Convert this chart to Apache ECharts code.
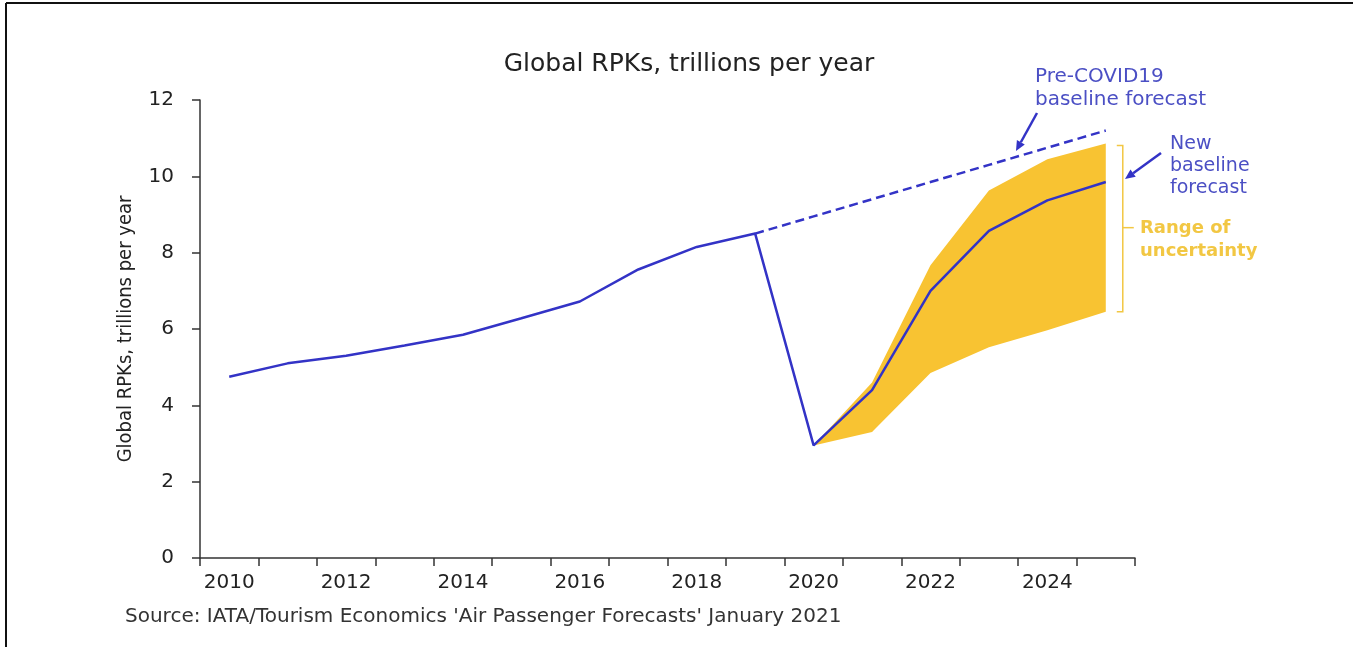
<!DOCTYPE html>
<html>
<head>
<meta charset="utf-8">
<script src="https://cdn.jsdelivr.net/npm/echarts@6/dist/echarts.min.js"></script>
<style>
  html, body { margin: 0; padding: 0; background: #fff; }
  #chart { width: 1356px; height: 647px; }
</style>
</head>
<body>
<div id="chart"></div>
<script>
// years on the category axis
const years = ["2010", "2011", "2012", "2013", "2014", "2015", "2016", "2017",
  "2018", "2019", "2020", "2021", "2022", "2023", "2024", "2025"];

// actual + new baseline forecast (trillions RPK)
const baseline = [4.75, 5.1, 5.3, 5.57, 5.85, 6.28, 6.72, 7.56, 8.15, 8.5,
  2.95, 4.4, 7.0, 8.57, 9.37, 9.85];

// pre-COVID19 baseline forecast (dashed)
const preCovid = [null, null, null, null, null, null, null, null, null, 8.5,
  8.95, 9.4, 9.85, 10.3, 10.75, 11.2];

// range of uncertainty
const bandLow = [null, null, null, null, null, null, null, null, null, null,
  2.95, 3.3, 4.85, 5.52, 5.97, 6.45];
const bandHigh = [null, null, null, null, null, null, null, null, null, null,
  2.95, 4.6, 7.67, 9.63, 10.45, 10.86];

const yTicks = [0, 2, 4, 6, 8, 10, 12];

const BLUE = "#3333c6";
const YELLOW = "#f8c332";
const YELLOW_TXT = "#f2c743";
const LABEL_BLUE = "#4b4fc4";
const FONT = "'DejaVu Sans', Inter, sans-serif";

const bandDiff = bandHigh.map((v, i) => (v == null ? null : +(v - bandLow[i]).toFixed(2)));

const chart = echarts.init(document.getElementById("chart"), null, { renderer: "canvas" });

const option = {
  animation: false,
  backgroundColor: "#fff",
  grid: { left: 200, right: 221, top: 100, bottom: 89, containLabel: false },
  xAxis: {
    type: "category",
    data: years,
    boundaryGap: true,
    axisLine: { lineStyle: { color: "#333", width: 1.5 } },
    axisTick: { show: true, interval: 0, length: 8, lineStyle: { color: "#333", width: 1.5 } },
    axisLabel: {
      interval: 1,
      color: "#222",
      fontFamily: FONT,
      fontSize: 20,
      margin: 15
    },
    splitLine: { show: false }
  },
  yAxis: {
    type: "value",
    min: 0,
    max: 12,
    interval: 2,
    name: "Global RPKs, trillions per year",
    nameLocation: "middle",
    nameGap: 64,
    nameTextStyle: {
      color: "#222",
      fontFamily: "'Liberation Sans Narrow', 'DejaVu Sans Condensed', sans-serif",
      fontSize: 20
    },
    axisLine: { show: true, lineStyle: { color: "#333", width: 1.5 } },
    axisTick: { show: true, length: 8, lineStyle: { color: "#333", width: 1.5 } },
    axisLabel: {
      color: "#222",
      fontFamily: FONT,
      fontSize: 20,
      margin: 26,
      formatter: (v) => (yTicks.includes(v) ? String(v) : "")
    },
    splitLine: { show: false }
  },
  series: [
    {
      name: "bandLow",
      type: "line",
      stack: "band",
      data: bandLow,
      symbol: "none",
      lineStyle: { width: 0, opacity: 0 },
      areaStyle: { opacity: 0 },
      z: 1
    },
    {
      name: "Range of uncertainty",
      type: "line",
      stack: "band",
      data: bandDiff,
      symbol: "none",
      lineStyle: { width: 0, opacity: 0 },
      areaStyle: { color: YELLOW, opacity: 1 },
      z: 1
    },
    {
      name: "Pre-COVID19 baseline forecast",
      type: "line",
      data: preCovid,
      symbol: "none",
      lineStyle: { color: BLUE, width: 2.5, type: [9, 5] },
      z: 3
    },
    {
      name: "New baseline forecast",
      type: "line",
      data: baseline,
      symbol: "none",
      lineStyle: { color: BLUE, width: 2.5 },
      z: 4
    }
  ]
};

chart.setOption(option);

// annotation helpers
function arrow(x1, y1, x2, y2, color) {
  const ang = Math.atan2(y2 - y1, x2 - x1);
  const L = 10, W = 4.5;
  const bx = x2 - L * Math.cos(ang), by = y2 - L * Math.sin(ang);
  const px = -Math.sin(ang) * W, py = Math.cos(ang) * W;
  return [
    { type: "line", shape: { x1, y1, x2: bx, y2: by }, style: { stroke: color, lineWidth: 2.5 }, z: 10 },
    { type: "polygon", shape: { points: [[x2, y2], [bx + px, by + py], [bx - px, by - py]] }, style: { fill: color }, z: 10 }
  ];
}

const last = years.length - 1;
const topPx = chart.convertToPixel({ gridIndex: 0 }, [last, bandHigh[last]]);
const botPx = chart.convertToPixel({ gridIndex: 0 }, [last, bandLow[last]]);
const bx = topPx[0] + 17;
const midY = (topPx[1] + botPx[1]) / 2;

const graphics = [
  // frame
  { type: "line", shape: { x1: 6, y1: 3, x2: 1353, y2: 3 }, style: { stroke: "#111", lineWidth: 2 } },
  { type: "line", shape: { x1: 6, y1: 3, x2: 6, y2: 647 }, style: { stroke: "#111", lineWidth: 2 } },
  // title
  {
    type: "text", x: 689, y: 64,
    style: { text: "Global RPKs, trillions per year", fill: "#222", font: "25px " + FONT, textAlign: "center", textVerticalAlign: "middle" }
  },
  // source
  {
    type: "text", x: 125, y: 617,
    style: { text: "Source: IATA/Tourism Economics 'Air Passenger Forecasts' January 2021", fill: "#333", font: "20px " + FONT, textAlign: "left", textVerticalAlign: "middle" }
  },
  // pre-covid label
  {
    type: "text", x: 1035, y: 88,
    style: { text: "Pre-COVID19\nbaseline forecast", fill: LABEL_BLUE, font: "20px " + FONT, lineHeight: 23, textAlign: "left", textVerticalAlign: "middle" }
  },
  ...arrow(1037, 113, 1016, 151, BLUE),
  // new baseline label
  {
    type: "text", x: 1170, y: 166,
    style: { text: "New\nbaseline\nforecast", fill: LABEL_BLUE, font: "19px " + FONT, lineHeight: 22, textAlign: "left", textVerticalAlign: "middle" }
  },
  ...arrow(1161, 153, 1125, 179, BLUE),
  // bracket for range of uncertainty
  {
    type: "polyline",
    shape: { points: [[bx - 6, topPx[1] + 2], [bx, topPx[1] + 2], [bx, botPx[1]], [bx - 6, botPx[1]]] },
    style: { stroke: YELLOW_TXT, lineWidth: 1.5, fill: null }
  },
  { type: "line", shape: { x1: bx, y1: midY, x2: bx + 11, y2: midY }, style: { stroke: YELLOW_TXT, lineWidth: 1.5 } },
  {
    type: "text", x: 1140, y: midY + 12,
    style: { text: "Range of\nuncertainty", fill: YELLOW_TXT, font: "bold 18px " + FONT, lineHeight: 23, textAlign: "left", textVerticalAlign: "middle" }
  }
];

chart.setOption({ graphic: graphics });

window.addEventListener("resize", () => chart.resize());
</script>
</body>
</html>
